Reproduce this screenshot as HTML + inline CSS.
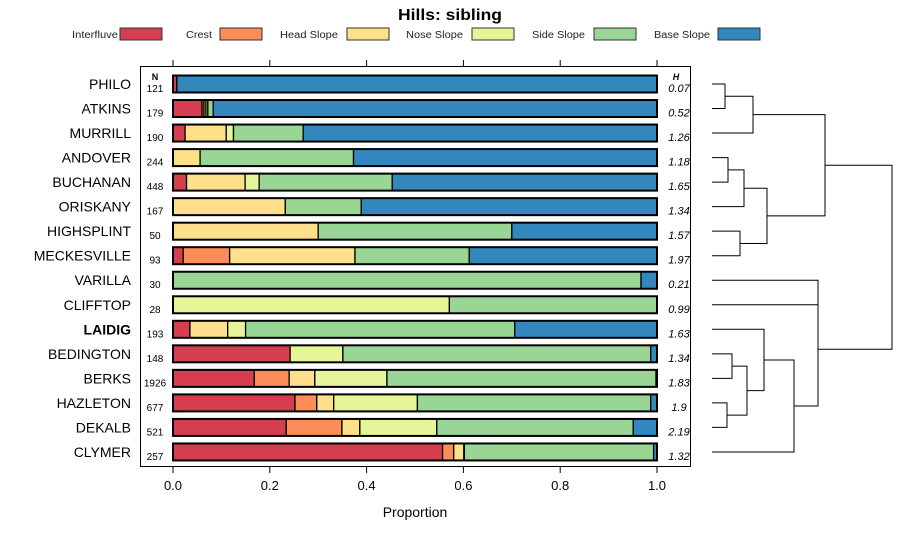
<!DOCTYPE html>
<html><head><meta charset="utf-8"><style>
body{margin:0;background:#fff}
svg{display:block;font-family:"Liberation Sans",sans-serif}
</style></head><body>
<svg id="c" width="900" height="540" viewBox="0 0 900 540"></svg>
<script>
const categories=["PHILO","ATKINS","MURRILL","ANDOVER","BUCHANAN","ORISKANY","HIGHSPLINT","MECKESVILLE","VARILLA","CLIFFTOP","LAIDIG","BEDINGTON","BERKS","HAZLETON","DEKALB","CLYMER"];
const seriesNames=["Interfluve","Crest","Head Slope","Nose Slope","Side Slope","Base Slope"];
const interfluve=[0.008,0.06,0.025,0,0.028,0,0,0.021,0,0,0.035,0.242,0.168,0.252,0.234,0.557];
const crest=[0,0.004,0,0,0,0,0,0.096,0,0,0,0,0.072,0.045,0.115,0.023];
const headSlope=[0,0.004,0.085,0.056,0.121,0.232,0.30,0.259,0,0,0.078,0,0.053,0.035,0.037,0.021];
const noseSlope=[0,0.004,0.015,0,0.029,0,0,0,0,0.571,0.037,0.109,0.149,0.173,0.159,0.001];
const sideSlope=[0,0.011,0.144,0.317,0.275,0.157,0.40,0.236,0.967,0.429,0.556,0.636,0.556,0.482,0.406,0.391];
const baseSlope=[0.992,0.917,0.731,0.627,0.547,0.611,0.30,0.388,0.033,0,0.294,0.013,0.002,0.013,0.049,0.007];
const nValues=["121","179","190","244","448","167","50","93","30","28","193","148","1926","677","521","257"];
const hValues=["0.07","0.52","1.26","1.18","1.65","1.34","1.57","1.97","0.21","0.99","1.63","1.34","1.83","1.9","2.19","1.32"];
const xTicks=[0,0.2,0.4,0.6,0.8,1.0];
const xTickLabels=["0.0","0.2","0.4","0.6","0.8","1.0"];
// dendrogram merges: [left, right, height]; negative = leaf index (-(i+1)), positive = merge index (1-based)
const merges=[[-1,-2,13],[1,-3,41],[-4,-5,16],[3,-6,32],[-7,-8,28],[4,5,55],[2,6,113],[-9,-10,106],[-14,-15,15],[-12,-13,20],[9,10,35],[-11,11,52],[12,-16,82],[8,13,106],[7,14,180]];
const colors=["#D53E4F","#FC8D59","#FEE08B","#E6F598","#99D594","#3288BD"];
const series=[interfluve,crest,headSlope,noseSlope,sideSlope,baseSlope];

const svg=document.getElementById('c');
const NS="http://www.w3.org/2000/svg";
function mk(t,a,p){const e=document.createElementNS(NS,t);for(const k in a)e.setAttribute(k,a[k]);(p||svg).appendChild(e);return e;}
const x0=173,x1=657;
const xs=v=>x0+(x1-x0)*v;
const ys=i=>84+i*24.53;

let t=mk('text',{x:450,y:20,'text-anchor':'middle','font-size':16,'font-weight':'bold',textLength:104,lengthAdjust:'spacingAndGlyphs'});t.textContent="Hills: sibling";

const legX=[[72,46,120],[186,26,220],[280,58,347],[406,57,472],[532,53,594],[654,56,718]];
const lg=mk('g',{});
seriesNames.forEach((s,k)=>{
  const g=mk('g',{},lg);
  const tx=mk('text',{x:legX[k][0],y:38,'font-size':10,fill:'#222',textLength:legX[k][1],lengthAdjust:'spacingAndGlyphs'},g);tx.textContent=s;
  mk('rect',{x:legX[k][2],y:28,width:42,height:12,fill:colors[k],stroke:'#333','stroke-width':1},g);
});
const fr=mk('rect',{x:140.5,y:66.5,width:550,height:400,fill:'none',stroke:'#000','stroke-width':1});

xTicks.forEach((v,i)=>{
  mk('line',{x1:xs(v),x2:xs(v),y1:60,y2:66,stroke:'#000'});
  mk('line',{x1:xs(v),x2:xs(v),y1:467,y2:473,stroke:'#000'});
  const l=mk('text',{x:xs(v),y:490,'text-anchor':'middle','font-size':13});l.textContent=xTickLabels[i];
  
});
const xl=mk('text',{x:415,y:517,'text-anchor':'middle','font-size':14});xl.textContent="Proportion";

let nh=mk('text',{x:155,y:80,'text-anchor':'middle','font-size':9,'font-weight':'bold'});nh.textContent="N";
let hh=mk('text',{x:676,y:80,'text-anchor':'middle','font-size':9,'font-weight':'bold','font-style':'italic'});hh.textContent="H";
categories.forEach((c,i)=>{
  const y=ys(i);
  const lab=mk('text',{x:131,y:y+5,'text-anchor':'end','font-size':14,'font-weight':c==="LAIDIG"?'bold':'normal'});lab.textContent=c;
  
  const n=mk('text',{x:155,y:y+8,'text-anchor':'middle','font-size':10});n.textContent=nValues[i];
  
  const h=mk('text',{x:679,y:y+8,'text-anchor':'middle','font-size':11,'font-style':'italic'});h.textContent=hValues[i];
  
  let cum=0;
  series.forEach((s,k)=>{
    const v=s[i];if(v<=0)return;
    const r=mk('rect',{x:xs(cum),y:y-8.5,width:xs(cum+v)-xs(cum),height:17,fill:colors[k],stroke:'#000','stroke-width':1.3});
    
    cum+=v;
  });
  const o=mk('rect',{x:xs(0),y:y-8.5,width:xs(cum)-xs(0),height:17,fill:'none',stroke:'#000','stroke-width':2});
  
});
const dg=mk('g',{});
const dx0=712;const nodes=[];
function pos(r){return r<0?{x:dx0,y:ys(-r-1)}:nodes[r-1];}
merges.forEach(m=>{
  const a=pos(m[0]),b=pos(m[1]),hx=dx0+m[2];
  mk('path',{d:`M${a.x},${a.y}H${hx}V${b.y}H${b.x}`,fill:'none',stroke:'#000','stroke-width':1},dg);
  nodes.push({x:hx,y:(a.y+b.y)/2});
});
</script>
</body></html>
